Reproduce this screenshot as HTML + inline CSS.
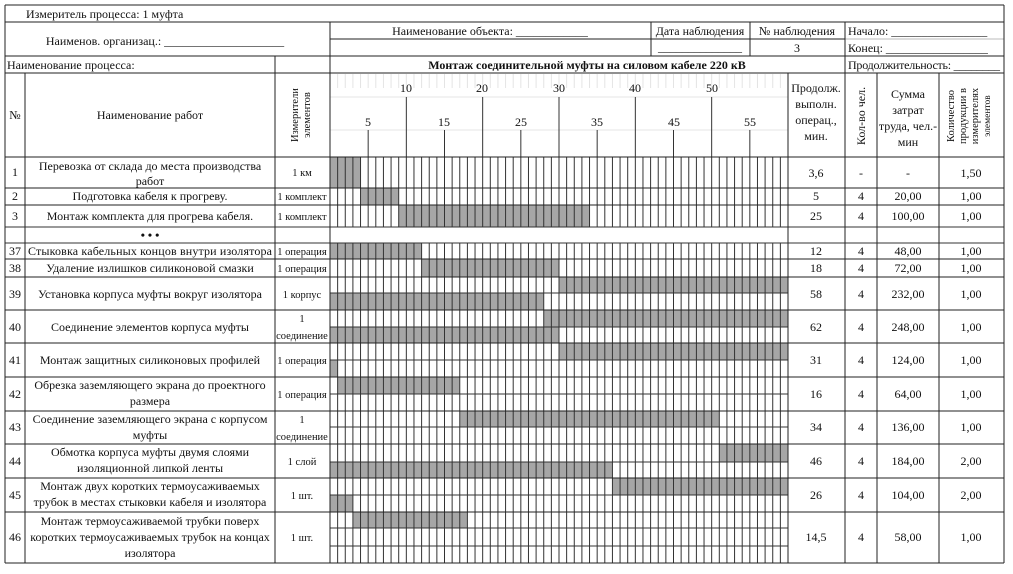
<!DOCTYPE html>
<html><head><meta charset="utf-8"><style>
html,body{margin:0;padding:0;background:#fff;width:1013px;height:574px;overflow:hidden}
svg{display:block}
text{font-family:"Liberation Serif","DejaVu Serif",serif;font-size:12px;fill:#111}
.s{font-size:10.5px}
.b{font-weight:bold}
</style></head><body>
<svg id="g" width="1013" height="574" xmlns="http://www.w3.org/2000/svg">
<g id="grid"></g>
<g id="txt" text-anchor="middle">
<text x="26" y="18" text-anchor="start">Измеритель процесса: 1 муфта</text>
<text x="165" y="45">Наименов. организац.: ____________________</text>
<text x="490" y="35">Наименование объекта: ____________</text>
<text x="700" y="35">Дата наблюдения</text>
<text x="797" y="35">№ наблюдения</text>
<text x="700" y="51">______________</text>
<text x="797" y="52">3</text>
<text x="848" y="35" text-anchor="start">Начало: ________________</text>
<text x="848" y="52" text-anchor="start">Конец: _________________</text>
<text x="848" y="69" text-anchor="start" textLength="152">Продолжительность: ________</text>
<text x="7" y="69" text-anchor="start">Наименование процесса:</text>
<text x="587" y="69" class="b">Монтаж соединительной муфты на силовом кабеле 220 кВ</text>
<text x="15" y="119">№</text>
<text x="150" y="119">Наименование работ</text>
<text transform="translate(298,115) rotate(-90)" class="s">Измерители</text>
<text transform="translate(310,115) rotate(-90)" class="s">элементов</text>
<text x="406" y="92">10</text><text x="482" y="92">20</text><text x="559" y="92">30</text><text x="635" y="92">40</text><text x="712" y="92">50</text>
<text x="368" y="126">5</text><text x="444" y="126">15</text><text x="521" y="126">25</text><text x="597" y="126">35</text><text x="674" y="126">45</text><text x="750" y="126">55</text>
<text x="816" y="92">Продолж.</text><text x="816" y="108">выполн.</text><text x="816" y="124">операц.,</text><text x="816" y="140">мин.</text>
<text transform="translate(865,116) rotate(-90)">Кол-во чел.</text>
<text x="908" y="98">Сумма</text><text x="908" y="114">затрат</text><text x="908" y="130">труда, чел.-</text><text x="908" y="146">мин</text>
<text transform="translate(954,116) rotate(-90)" class="s">Количество</text>
<text transform="translate(966,116) rotate(-90)" class="s">продукции в</text>
<text transform="translate(978,116) rotate(-90)" class="s">измерителях</text>
<text transform="translate(990,116) rotate(-90)" class="s" style="font-size:9.5px">элементов</text>

<text x="15" y="176">1</text><text x="150" y="170">Перевозка от склада до места производства</text><text x="150" y="185">работ</text><text x="302" y="176" class="s">1 км</text>
<text x="15" y="200">2</text><text x="150" y="200">Подготовка кабеля к прогреву.</text><text x="302" y="200" class="s">1 комплект</text>
<text x="15" y="220">3</text><text x="150" y="220">Монтаж комплекта для прогрева кабеля.</text><text x="302" y="220" class="s">1 комплект</text>
<text x="150" y="239" class="b">• • •</text>
<text x="15" y="255">37</text><text x="150" y="255" textLength="244">Стыковка кабельных концов внутри изолятора</text><text x="302" y="255" class="s">1 операция</text>
<text x="15" y="272">38</text><text x="150" y="272">Удаление излишков силиконовой смазки</text><text x="302" y="272" class="s">1 операция</text>
<text x="15" y="298">39</text><text x="150" y="298">Установка корпуса муфты вокруг изолятора</text><text x="302" y="298" class="s">1 корпус</text>
<text x="15" y="331">40</text><text x="150" y="331">Соединение элементов корпуса муфты</text><text x="302" y="322" class="s">1</text><text x="302" y="339" class="s">соединение</text>
<text x="15" y="364">41</text><text x="150" y="364">Монтаж защитных силиконовых профилей</text><text x="302" y="364" class="s">1 операция</text>
<text x="15" y="398">42</text><text x="150" y="389">Обрезка заземляющего экрана до проектного</text><text x="150" y="405">размера</text><text x="302" y="398" class="s">1 операция</text>
<text x="15" y="431">43</text><text x="150" y="423">Соединение заземляющего экрана с корпусом</text><text x="150" y="439">муфты</text><text x="302" y="423" class="s">1</text><text x="302" y="440" class="s">соединение</text>
<text x="15" y="465">44</text><text x="150" y="456">Обмотка корпуса муфты двумя слоями</text><text x="150" y="472">изоляционной липкой ленты</text><text x="302" y="465" class="s">1 слой</text>
<text x="15" y="499">45</text><text x="150" y="490">Монтаж двух коротких термоусаживаемых</text><text x="150" y="506">трубок в местах стыковки кабеля и изолятора</text><text x="302" y="499" class="s">1 шт.</text>
<text x="15" y="541">46</text><text x="150" y="525">Монтаж термоусаживаемой трубки поверх</text><text x="150" y="541">коротких термоусаживаемых трубок на концах</text><text x="150" y="557">изолятора</text><text x="302" y="541" class="s">1 шт.</text>

<text x="816" y="177">3,6</text><text x="861" y="177">-</text><text x="908" y="177">-</text><text x="971" y="177">1,50</text>
<text x="816" y="200">5</text><text x="861" y="200">4</text><text x="908" y="200">20,00</text><text x="971" y="200">1,00</text>
<text x="816" y="220">25</text><text x="861" y="220">4</text><text x="908" y="220">100,00</text><text x="971" y="220">1,00</text>
<text x="816" y="255">12</text><text x="861" y="255">4</text><text x="908" y="255">48,00</text><text x="971" y="255">1,00</text>
<text x="816" y="272">18</text><text x="861" y="272">4</text><text x="908" y="272">72,00</text><text x="971" y="272">1,00</text>
<text x="816" y="298">58</text><text x="861" y="298">4</text><text x="908" y="298">232,00</text><text x="971" y="298">1,00</text>
<text x="816" y="331">62</text><text x="861" y="331">4</text><text x="908" y="331">248,00</text><text x="971" y="331">1,00</text>
<text x="816" y="364">31</text><text x="861" y="364">4</text><text x="908" y="364">124,00</text><text x="971" y="364">1,00</text>
<text x="816" y="398">16</text><text x="861" y="398">4</text><text x="908" y="398">64,00</text><text x="971" y="398">1,00</text>
<text x="816" y="431">34</text><text x="861" y="431">4</text><text x="908" y="431">136,00</text><text x="971" y="431">1,00</text>
<text x="816" y="465">46</text><text x="861" y="465">4</text><text x="908" y="465">184,00</text><text x="971" y="465">2,00</text>
<text x="816" y="499">26</text><text x="861" y="499">4</text><text x="908" y="499">104,00</text><text x="971" y="499">2,00</text>
<text x="816" y="541">14,5</text><text x="861" y="541">4</text><text x="908" y="541">58,00</text><text x="971" y="541">1,00</text>
</g>
</svg>
<script>
(function(){
var ns="http://www.w3.org/2000/svg",g=document.getElementById("grid");
function L(x1,y1,x2,y2,c,w){var e=document.createElementNS(ns,"line");e.setAttribute("x1",x1);e.setAttribute("y1",y1);e.setAttribute("x2",x2);e.setAttribute("y2",y2);e.setAttribute("stroke",c||"#222");e.setAttribute("stroke-width",w||1);g.appendChild(e);}
function R(x,y,w,h,c){var e=document.createElementNS(ns,"rect");e.setAttribute("x",x);e.setAttribute("y",y);e.setAttribute("width",w);e.setAttribute("height",h);e.setAttribute("fill",c);g.appendChild(e);}
var X0=330,CW=(788-330)/60;
var bars=[[157,188,[[0,4]]],[188,205,[[4,9]]],[205,227,[[9,34]]],[243,259,[[0,12]]],[259,277,[[12,30]]],
[277,293,[[30,60]]],[293,310,[[0,28]]],[310,327,[[28,60]]],[327,343,[[0,30]]],[343,360,[[30,60]]],[360,377,[[0,1]]],
[377,394,[[1,17]]],[411,427,[[17,51]]],[444,462,[[51,60]]],[462,478,[[0,37]]],[478,495,[[37,60]]],[495,512,[[0,3]]],[512,528,[[3,18]]]];
bars.forEach(function(b){b[2].forEach(function(s){R(X0+s[0]*CW,b[0],(s[1]-s[0])*CW,b[1]-b[0],"#a6a6a6");});});
for(var i=0;i<=60;i++){var x=X0+i*CW;L(x,74,x,88,"#e4e4e4");}
L(330,97,788,97,"#e4e4e4");L(330,130,788,130,"#e4e4e4");
L(5,227,1004,227,"#ddd");L(5,243,1004,243,"#ddd");
for(var i=0;i<=60;i++){var x=X0+i*CW;L(x,157,x,227,"#333");L(x,243,x,563,"#333");}
for(var k=5;k<60;k+=5){var x=X0+k*CW;L(x,(k%10==0)?97:130,x,157,"#333");}
[5,22,56,73,157,188,205,259,277,310,343,377,411,444,478,512,563].forEach(function(y){L(5,y,1004,y);});
L(5,243,1004,243,"#333");L(5,227,1004,227,"#333");
[293,327,360,394,427,462,495,528,546].forEach(function(y){L(330,y,788,y,"#333");});
L(330,39,845,39);L(845,39,1004,39,"#bbb");
L(5,5,5,563);L(1004,5,1004,563);
L(330,22,330,563);L(275,56,275,563);L(25,73,25,563);
L(651,22,651,56);L(750,22,750,56);L(845,22,845,563);
L(788,73,788,563);L(877,73,877,563);L(939,73,939,563);
})();
</script>
</body></html>
